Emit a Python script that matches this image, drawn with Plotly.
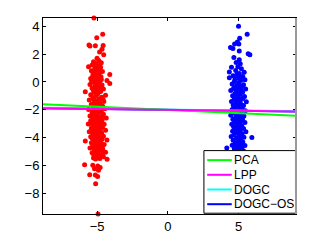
import plotly.graph_objects as go

red_x = [-5.22, -4.60, -5.02, -5.57, -5.50, -5.12, -4.57, -4.65, -4.82, -4.53, -5.00, -4.88, -5.25, -4.70,
         -5.05, -5.35, -4.92, -5.60, -4.75, -5.15, -4.98, -5.40, -4.62, -5.20, -4.85, -4.10, -5.05, -5.30,
         -4.72, -4.95, -5.45, -4.30, -5.10, -4.80, -5.25, -4.10, -4.95, -5.50, -4.65, -5.15, -4.88, -5.35,
         -4.55, -5.02, -5.83, -4.75, -5.22, -4.95, -5.45, -4.40, -5.10, -4.68, -5.30, -4.85, -5.55, -5.00,
         -4.52, -5.18, -4.78, -5.40, -4.95, -4.60, -5.25, -5.05, -4.45, -5.60, -4.85, -5.15, -4.70, -5.35,
         -4.98, -4.55, -5.20, -5.50, -4.80, -5.05, -4.35, -5.30, -4.92, -4.65, -5.45, -5.12, -4.75, -5.00,
         -5.62, -4.50, -5.25, -4.88, -5.08, -4.62, -5.40, -4.95, -5.18, -4.40, -4.78, -5.55, -5.02, -4.68,
         -5.30, -4.90, -5.12, -4.55, -5.45, -4.82, -5.05, -4.65, -5.25, -4.30, -5.83, -4.95, -5.15, -4.72,
         -5.40, -4.88, -4.50, -5.08, -5.30, -4.78, -4.98, -5.50, -4.60, -5.20, -4.85, -5.05, -4.40, -5.35,
         -4.92, -4.70, -5.15, -4.55, -5.00, -4.29, -4.80, -5.25, -5.88, -5.30, -4.95, -4.78, -5.18, -4.90,
         -5.52, -5.12, -4.96, -5.10, -4.93,
         -5.08, -4.82, -5.28, -4.90, -5.12, -4.70, -5.38, -5.00, -4.78, -5.25, -4.90, -5.05, -4.58, -5.22,
         -4.95, -5.10, -4.72, -5.30, -4.90, -5.08, -4.62, -5.22, -4.85, -5.35, -4.72, -5.10, -4.82, -5.28,
         -4.88, -5.00, -5.35, -4.75, -5.10, -4.65, -5.20, -4.95, -5.25, -4.60, -4.85, -5.10]
red_y = [4.60, 3.43, 3.18, 2.66, 2.58, 2.60, 2.62, 2.36, 2.16, 1.95, 1.70, 1.55, 1.45, 1.38,
         1.30, 1.22, 1.15, 1.10, 1.05, 0.98, 0.85, 0.80, 0.75, 0.70, 0.62, 0.54, 0.50, 0.42,
         0.38, 0.30, 0.25, 0.10, 0.15, 0.05, -0.02, -0.12, -0.10, -0.18, -0.22, -0.30, -0.38, -0.45,
         -0.50, -0.55, -0.70, -0.68, -0.75, -0.85, -0.92, -0.95, -1.02, -1.10, -1.15, -1.22, -1.30, -1.35,
         -1.40, -1.48, -1.55, -1.60, -1.68, -1.75, -1.80, -1.88, -1.92, -1.98, -2.02, -2.10, -2.15, -2.22,
         -2.28, -2.32, -2.38, -2.45, -2.50, -2.55, -2.60, -2.65, -2.70, -2.75, -2.80, -2.85, -2.92, -2.98,
         -3.02, -3.05, -3.10, -3.15, -3.22, -3.28, -3.32, -3.38, -3.45, -3.48, -3.52, -3.58, -3.62, -3.68,
         -3.72, -3.78, -3.85, -3.90, -3.95, -4.00, -4.05, -4.10, -4.15, -4.18, -4.24, -4.22, -4.30, -4.35,
         -4.38, -4.45, -4.50, -4.52, -4.60, -4.65, -4.72, -4.76, -4.80, -4.85, -4.92, -5.00, -5.05, -5.10,
         -5.18, -5.25, -5.30, -5.38, -5.42, -5.56, -5.50, -5.48, -5.95, -6.00, -6.05, -6.15, -6.25, -6.35,
         -6.68, -6.70, -6.80, -7.32, -9.50,
         1.05, 0.92, 0.58, 0.45, 0.28, 0.18, 0.05, -0.25, -0.48, -0.60, -0.70, -0.95, -1.25, -1.30,
         -1.45, -1.62, -1.90, -2.00, -2.20, -2.42, -2.48, -2.62, -2.82, -3.00, -3.10, -3.30, -3.42, -3.55,
         -3.60, -3.90, -4.05, -4.20, -4.40, -4.58, -4.70, -4.95, -5.20, -5.12, -5.35, -5.55]

blue_x = [5.00, 5.61, 5.08, 4.92, 4.72, 5.02, 4.43, 4.60, 5.05, 5.68, 5.80, 4.67, 5.05, 4.83, 5.12,
          4.50, 4.95, 5.20, 4.35, 5.40, 4.80, 5.05, 4.62, 5.30, 4.35, 4.90, 5.45, 5.15, 4.70, 5.00,
          4.55, 5.35, 4.85, 5.20, 4.65, 5.50, 5.02, 4.45, 4.92, 5.28, 4.75, 5.10, 4.58, 5.42, 4.95,
          4.70, 5.22, 5.00, 4.50, 5.55, 4.85, 5.15, 4.62, 5.35, 4.98, 4.75, 5.25, 4.55, 5.05, 5.48,
          4.88, 4.68, 5.18, 5.00, 4.45, 5.38, 4.80, 5.10, 4.60, 5.28, 4.95, 4.72, 5.45, 5.05, 4.52,
          4.88, 5.22, 4.65, 5.00, 5.35, 4.80, 5.12, 4.58, 5.52, 4.92, 5.25, 4.70, 5.05, 4.48, 5.94,
          5.38, 4.85, 5.15, 4.62, 5.00, 5.30, 4.78, 5.10, 4.55, 5.45, 4.92, 4.17, 5.22, 4.70, 5.02,
          5.35, 4.82, 4.60, 5.15, 4.95, 5.30, 4.75, 5.05, 4.85, 5.20, 4.95, 5.10, 4.90, 5.00,
          4.90, 5.15, 4.75, 5.05, 4.80, 5.18, 4.88, 5.32, 4.80, 5.08, 4.90, 5.20, 4.65, 4.95, 5.28,
          4.78, 5.15, 4.85, 5.08, 4.75, 5.18, 4.95, 4.72, 5.25, 4.90]
blue_y = [4.00, 3.43, 3.15, 2.88, 2.73, 2.73, 2.48, 2.40, 2.22, 2.02, 1.95, 1.75, 1.60, 1.40, 1.30,
          1.05, 1.10, 0.95, 0.72, 0.70, 0.82, 0.60, 0.45, 0.40, 0.30, 0.28, 0.15, 0.10, 0.02, -0.05,
          -0.15, -0.20, -0.30, -0.38, -0.45, -0.50, -0.55, -0.62, -0.70, -0.75, -0.85, -0.90, -1.00, -1.05, -1.12,
          -1.20, -1.25, -1.35, -1.40, -1.42, -1.50, -1.58, -1.65, -1.70, -1.75, -1.85, -1.90, -1.98, -2.02, -2.08,
          -2.15, -2.22, -2.28, -2.35, -2.40, -2.45, -2.52, -2.60, -2.68, -2.72, -2.80, -2.88, -2.92, -2.98, -3.05,
          -3.10, -3.15, -3.22, -3.30, -3.35, -3.42, -3.48, -3.55, -3.58, -3.65, -3.72, -3.80, -3.85, -3.92, -4.00,
          -3.98, -4.05, -4.12, -4.20, -4.25, -4.32, -4.40, -4.48, -4.55, -4.58, -4.62, -4.76, -4.72, -4.80, -4.85,
          -4.95, -5.00, -5.10, -5.15, -5.30, -5.40, -5.50, -5.65, -5.90, -6.10, -6.40, -6.80, -7.30, -7.90,
          0.55, 0.35, 0.20, -0.22, -0.58, -0.62, -0.95, -1.15, -1.30, -1.45, -1.62, -1.80, -2.05, -2.45, -2.55,
          -2.70, -2.85, -3.25, -3.62, -3.60, -3.92, -4.35, -4.62, -4.52, -4.90]

line_x = [-8.82, 9.06]
pca_y = [-1.60, -2.43]
lpp_y = [-1.89, -2.12]
dogc_y = [-1.88, -2.11]
dogcos_y = [-1.89, -2.12]

legend_names = ["PCA", "LPP", "DOGC", "DOGC\u2212OS"]
legend_colors = ["#00ff00", "#ff00ff", "#00ffff", "#0000ff"]

fig = go.Figure()
fig.add_trace(go.Scatter(x=red_x, y=red_y, mode="markers", showlegend=False, cliponaxis=False,
                         marker=dict(color="#ff0000", size=5, line=dict(width=0))))
fig.add_trace(go.Scatter(x=blue_x, y=blue_y, mode="markers", showlegend=False, cliponaxis=False,
                         marker=dict(color="#0000ff", size=5, line=dict(width=0))))
fig.add_trace(go.Scatter(x=line_x, y=dogcos_y, mode="lines", name=legend_names[3], showlegend=False,
                         line=dict(color=legend_colors[3], width=2)))
fig.add_trace(go.Scatter(x=line_x, y=dogc_y, mode="lines", name=legend_names[2], showlegend=False,
                         line=dict(color=legend_colors[2], width=2)))
fig.add_trace(go.Scatter(x=line_x, y=pca_y, mode="lines", name=legend_names[0], showlegend=False,
                         line=dict(color=legend_colors[0], width=2)))
fig.add_trace(go.Scatter(x=line_x, y=lpp_y, mode="lines", name=legend_names[1], showlegend=False,
                         line=dict(color=legend_colors[1], width=2)))

# custom compact legend box (paper coordinates)
shapes = [dict(type="rect", xref="paper", yref="paper", x0=0.636, x1=0.998, y0=0.004, y1=0.3235,
               fillcolor="white", line=dict(color="black", width=1), layer="above")]
annotations = []
row_y = [0.275, 0.2, 0.125, 0.05]
for name, color, ry in zip(legend_names, legend_colors, row_y):
    shapes.append(dict(type="line", xref="paper", yref="paper", x0=0.649, x1=0.746, y0=ry, y1=ry,
                       line=dict(color=color, width=2), layer="above"))
    annotations.append(dict(xref="paper", yref="paper", x=0.746, y=ry, text=name, showarrow=False,
                            xanchor="left", yanchor="middle", font=dict(size=12, color="black")))
# greyish right border as in the reference
shapes.append(dict(type="line", xref="paper", yref="paper", x0=1, x1=1, y0=0, y1=1,
                   line=dict(color="#9a9a9a", width=2), layer="above"))

axis_common = dict(showgrid=False, zeroline=False, showline=True, linecolor="black", linewidth=1,
                   mirror="ticks", ticks="inside", ticklen=3, tickcolor="black",
                   tickfont=dict(size=13, color="black"))
fig.update_layout(
    width=327, height=246,
    margin=dict(l=43, r=31, t=18, b=28),
    paper_bgcolor="white", plot_bgcolor="white",
    font=dict(family="Liberation Sans, Arial, sans-serif", color="black"),
    xaxis=dict(range=[-8.82, 9.06], tickvals=[-5, 0, 5], **axis_common),
    yaxis=dict(range=[-9.5, 4.6], tickvals=[-8, -6, -4, -2, 0, 2, 4], **axis_common),
    showlegend=False,
    shapes=shapes,
    annotations=annotations,
)
fig.write_html("out.html", config={"displayModeBar": False},
               post_script="document.body.style.margin='0';")
